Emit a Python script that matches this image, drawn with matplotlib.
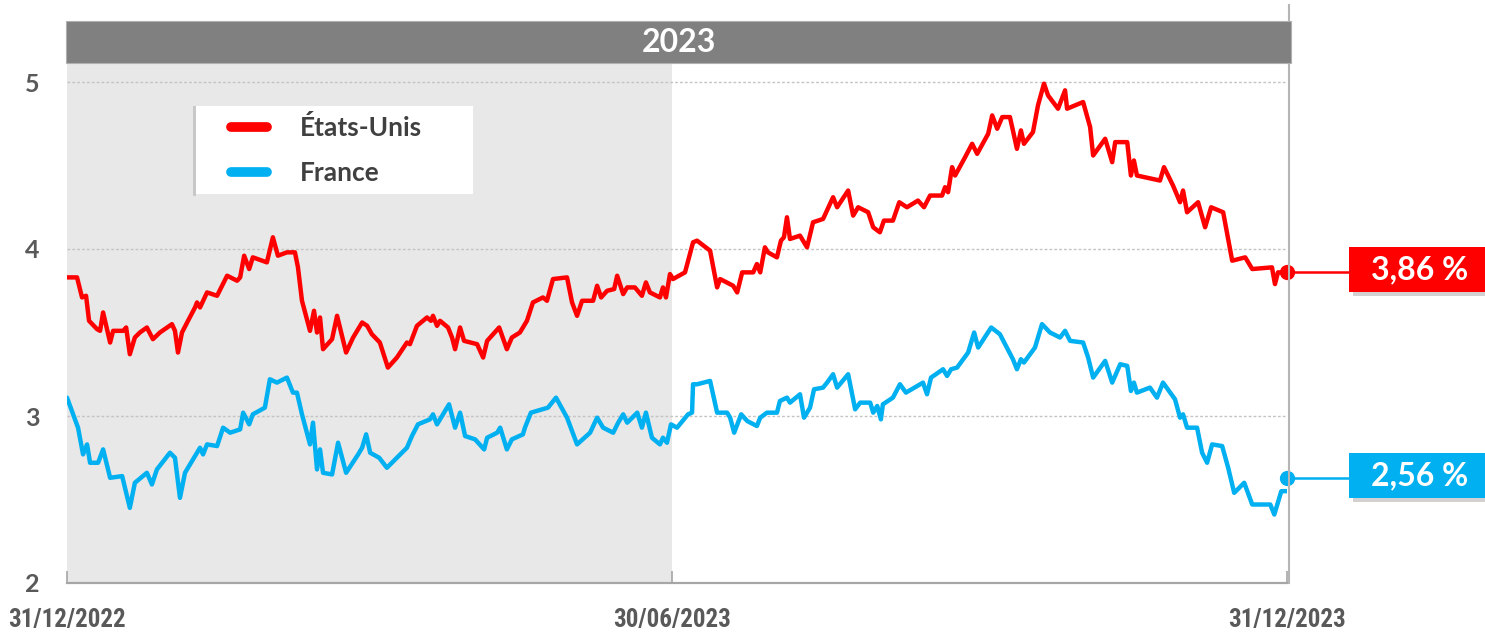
import matplotlib
matplotlib.use("Agg")
import matplotlib.pyplot as plt
from matplotlib import font_manager as fm
from matplotlib.patches import Rectangle
from matplotlib.lines import Line2D

# ---------------- data (days since 31/12/2022, yield in %) ----------------
us_days = [0, 3.0, 4.5, 5.7, 6.6, 9.0, 9.9, 10.8, 12.9, 13.8, 16.8, 17.7, 18.8, 20.3, 21.8,
           23.9, 25.7, 27.8, 31.4, 32.3, 33.2, 34.4, 36.2, 38.3, 38.9, 39.8, 41.9, 44.9, 47.9,
           50.9, 51.8, 53.0, 54.5, 55.6, 59.8, 61.6, 63.1, 65.8, 68.2, 69.1, 70.3, 72.7, 73.9,
           74.8, 75.7, 76.6, 79.3, 80.8, 83.5, 85.6, 88.3, 89.8, 91.2, 93.6, 96.0, 98.7, 101.7,
           102.6, 104.7, 107.7, 108.9, 109.5, 110.7, 111.6, 114.0, 115.2, 116.1, 117.6, 118.8,
           122.7, 124.5, 125.7, 129.3, 131.6, 133.1, 135.5, 137.6, 139.4, 142.4, 143.6, 145.4,
           149.6, 151.1, 152.6, 154.1, 157.4, 158.6, 159.8, 161.6, 163.7, 164.6, 166.4, 167.6,
           169.9, 172.0, 173.2, 174.4, 177.4, 178.3, 179.2, 180.4, 181.3, 184.9, 187.3, 188.5,
           192.4, 194.5, 195.4, 199.3, 200.5, 202.0, 205.3, 206.4, 207.4, 208.8, 209.7, 212.4,
           213.6, 214.5, 215.4, 216.3, 219.3, 221.4, 223.2, 226.2, 229.2, 230.4, 233.7, 235.2,
           236.7, 239.7, 241.2, 243.2, 244.4, 247.1, 249.0, 251.3, 254.6, 256.4, 258.2, 261.8,
           262.7, 263.6, 264.8, 265.7, 268.7, 270.8, 272.3, 275.6, 276.8, 278.3, 279.8, 282.1,
           283.0, 284.2, 285.4, 286.3, 289.0, 290.5, 292.3, 293.5, 296.5, 298.6, 299.2, 304.0,
           306.1, 307.0, 310.6, 312.7, 313.6, 317.2, 318.3, 319.2, 320.1, 327.0, 328.2, 330.9,
           333.0, 333.9, 335.1, 338.4, 340.5, 342.3, 345.9, 348.6, 352.5, 354.6, 360.5, 361.4,
           362.3, 365]
us_vals = [3.83, 3.83, 3.71, 3.72, 3.57, 3.52, 3.51, 3.62, 3.44, 3.51, 3.51, 3.53, 3.37, 3.47, 3.50,
           3.53, 3.46, 3.50, 3.55, 3.51, 3.38, 3.50, 3.57, 3.65, 3.68, 3.65, 3.74, 3.72, 3.84,
           3.81, 3.83, 3.96, 3.88, 3.95, 3.92, 4.07, 3.96, 3.98, 3.98, 3.89, 3.69, 3.51, 3.63,
           3.50, 3.59, 3.40, 3.46, 3.60, 3.38, 3.47, 3.56, 3.54, 3.49, 3.44, 3.29, 3.35, 3.44,
           3.43, 3.54, 3.59, 3.57, 3.60, 3.54, 3.57, 3.53, 3.47, 3.40, 3.53, 3.45,
           3.43, 3.35, 3.45, 3.53, 3.40, 3.47, 3.50, 3.57, 3.68, 3.71, 3.69, 3.82,
           3.83, 3.68, 3.60, 3.69, 3.69, 3.78, 3.71, 3.75, 3.76, 3.84, 3.73, 3.77,
           3.77, 3.72, 3.80, 3.74, 3.71, 3.77, 3.71, 3.85, 3.82, 3.86, 4.04, 4.05,
           3.99, 3.77, 3.82, 3.78, 3.74, 3.86, 3.86, 3.91, 3.86, 4.01, 3.98, 3.95,
           4.05, 4.07, 4.19, 4.06, 4.08, 4.01, 4.16, 4.18, 4.31, 4.25, 4.35, 4.20,
           4.25, 4.22, 4.13, 4.10, 4.17, 4.17, 4.28, 4.25, 4.29, 4.25, 4.32, 4.32,
           4.37, 4.34, 4.49, 4.44, 4.55, 4.63, 4.57, 4.69, 4.80, 4.72, 4.79, 4.79,
           4.71, 4.60, 4.71, 4.63, 4.70, 4.86, 4.99, 4.92, 4.84, 4.95, 4.84, 4.88,
           4.73, 4.56, 4.66, 4.52, 4.64, 4.64, 4.44, 4.53, 4.44, 4.41, 4.49, 4.38,
           4.28, 4.35, 4.22, 4.28, 4.13, 4.25, 4.22, 3.93, 3.95, 3.88, 3.89, 3.79,
           3.86, 3.86]

fr_days = [0, 3.3, 4.8, 6.0, 6.9, 9.3, 10.8, 12.9, 16.5, 18.8, 20.3, 23.9, 25.4, 26.9, 30.8,
           32.3, 33.8, 35.3, 39.8, 40.7, 41.9, 44.9, 46.7, 48.8, 51.8, 52.7, 54.5, 55.6, 59.2,
           60.7, 62.8, 65.8, 67.6, 68.8, 70.3, 72.7, 73.6, 74.8, 75.7, 76.6, 79.3, 81.1, 83.5,
           87.1, 88.3, 89.5, 90.7, 93.4, 95.7, 98.7, 101.7, 103.2, 105.0, 108.6, 109.5, 110.7,
           114.3, 116.1, 117.6, 119.1, 122.1, 124.8, 125.7, 128.7, 129.6, 131.6, 133.1, 136.4,
           137.0, 138.8, 143.9, 146.3, 149.6, 152.6, 156.5, 158.6, 160.4, 163.4, 164.9, 166.4,
           167.6, 170.6, 172.0, 173.2, 175.0, 177.4, 178.3, 179.5, 180.7, 182.5, 185.8, 187.0,
           187.3, 188.5, 192.4, 194.5, 197.5, 198.4, 199.6, 201.7, 203.5, 206.4, 207.4, 209.4,
           212.4, 213.3, 215.4, 216.3, 219.3, 220.5, 222.3, 223.5, 226.2, 227.4, 229.2, 230.4,
           233.7, 235.8, 237.3, 240.3, 241.2, 242.4, 243.5, 244.1, 247.1, 249.2, 251.0, 256.1,
           257.3, 258.5, 262.1, 263.3, 264.5, 266.3, 269.6, 271.4, 272.6, 276.5, 279.1, 283.0,
           284.2, 285.4, 286.3, 289.6, 291.7, 294.1, 297.1, 298.6, 300.1, 304.0, 305.5, 307.0,
           310.6, 312.7, 315.1, 317.2, 318.3, 319.2, 320.1, 324.0, 326.1, 327.9, 331.5, 333.0,
           333.9, 335.1, 338.1, 339.6, 341.1, 342.6, 345.6, 347.4, 349.2, 352.2, 354.6, 360.0,
           361.2, 363.3, 365]
fr_vals = [3.11, 2.93, 2.77, 2.83, 2.72, 2.72, 2.80, 2.63, 2.64, 2.45, 2.60, 2.66, 2.59, 2.68, 2.78,
           2.75, 2.51, 2.66, 2.81, 2.77, 2.83, 2.82, 2.93, 2.90, 2.92, 3.02, 2.95, 3.01, 3.05,
           3.22, 3.20, 3.23, 3.14, 3.14, 3.01, 2.83, 2.96, 2.68, 2.80, 2.66, 2.65, 2.84, 2.66,
           2.77, 2.81, 2.89, 2.78, 2.75, 2.69, 2.75, 2.81, 2.88, 2.95, 2.98, 3.01, 2.95,
           3.07, 2.93, 3.02, 2.88, 2.86, 2.80, 2.87, 2.90, 2.93, 2.80, 2.86, 2.89,
           2.93, 3.02, 3.05, 3.11, 2.99, 2.83, 2.90, 2.99, 2.93, 2.90, 2.96, 3.01,
           2.96, 3.02, 2.93, 3.02, 2.87, 2.83, 2.87, 2.84, 2.95, 2.93, 3.01, 3.02,
           3.19, 3.19, 3.21, 3.02, 3.02, 2.99, 2.90, 3.01, 2.97, 2.94, 2.99, 3.02,
           3.02, 3.09, 3.11, 3.08, 3.13, 2.99, 3.05, 3.16, 3.17, 3.20, 3.25, 3.17,
           3.25, 3.04, 3.08, 3.08, 3.02, 3.06, 2.98, 3.07, 3.11, 3.19, 3.14, 3.20,
           3.13, 3.23, 3.28, 3.24, 3.28, 3.29, 3.38, 3.50, 3.41, 3.53, 3.49, 3.34,
           3.28, 3.34, 3.32, 3.41, 3.55, 3.50, 3.47, 3.51, 3.45, 3.44, 3.35, 3.23,
           3.33, 3.20, 3.31, 3.30, 3.15, 3.20, 3.14, 3.17, 3.11, 3.20, 3.10, 2.99,
           3.01, 2.93, 2.93, 2.78, 2.72, 2.83, 2.82, 2.69, 2.54, 2.60, 2.47, 2.47,
           2.41, 2.55, 2.55]

series_names = ["États-Unis", "France"]
series_colors = ["#ff0000", "#00b0f0"]
end_labels = ["3,86 %", "2,56 %"]
end_marker_vals = [3.86, 2.63]
year_label = "2023"
x_tick_pos = [0, 181, 365]
x_tick_labels = ["31/12/2022", "30/06/2023", "31/12/2023"]
y_ticks = [2, 3, 4, 5]
y_tick_labels = ["2", "3", "4", "5"]
first_half_end = 181

# ---------------- fonts ----------------
avail = {f.name for f in fm.fontManager.ttflist}
def pick(*names):
    for n in names:
        if n in avail:
            return n
    return "DejaVu Sans"
main_font = pick("Lato", "Open Sans", "DejaVu Sans")
narrow_font = pick("Liberation Sans Narrow", "DejaVu Sans Condensed", "Roboto Condensed", "Liberation Sans")

W, H = 1485, 634
fig = plt.figure(figsize=(W / 100, H / 100), dpi=100)
fig.patch.set_facecolor("white")

def fx(px):
    return px / W
def fy(py):
    return 1 - py / H

ax_l, ax_r, ax_b, ax_t = 67, 1287, 583, 63
ax = fig.add_axes([fx(ax_l), fy(ax_b), fx(ax_r) - fx(ax_l), fy(ax_t) - fy(ax_b)])
ax.set_xlim(0, 365)
ymax = 2 + (ax_b - ax_t) / 167.0
ax.set_ylim(2, ymax)

# shaded first half
ax.axvspan(0, first_half_end, color="#e8e8e8", zorder=0, lw=0)

# grid
for yv in [3, 4, 5]:
    ax.axhline(yv, color="#c4c4c4", lw=1.0, ls=(0, (2, 1.5)), zorder=1)

# series
for d, v, c, n in [(us_days, us_vals, series_colors[0], series_names[0]),
                   (fr_days, fr_vals, series_colors[1], series_names[1])]:
    ax.plot(d, v, color=c, lw=3.2, solid_joinstyle="round", solid_capstyle="round", zorder=3, label=n)

# end markers & connectors
px_per_day = (ax_r - ax_l) / 365.0
box_left_day = (1349 - ax_l) / px_per_day
for mv, c in zip(end_marker_vals, series_colors):
    ax.plot([365, box_left_day], [mv, mv], color=c, lw=1.8, clip_on=False, zorder=4)
    ax.plot([365], [mv], marker="o", ms=10, color=c, clip_on=False, zorder=5)

# spines / ticks
for s in ["top", "right", "left"]:
    ax.spines[s].set_visible(False)
ax.spines["bottom"].set_color("#a6a6a6")
ax.spines["bottom"].set_linewidth(1.6)
ax.set_xticks(x_tick_pos)
ax.set_xticklabels(x_tick_labels, fontfamily=narrow_font, fontweight="bold", fontsize=18, color="#595959")
ax.tick_params(axis="x", direction="in", length=9, width=1.2, color="#a6a6a6", pad=18)
ax.set_yticks(y_ticks)
ax.set_yticklabels(y_tick_labels, fontfamily=main_font, fontweight="bold", fontsize=18, color="#595959")
ax.tick_params(axis="y", length=0, pad=20)
ax.set_facecolor("white")

# legend (drawn in figure pixels to match the reference box)
fig.patches.append(Rectangle((fx(193), fy(196)), fx(196) - fx(193), fy(106) - fy(196),
                             transform=fig.transFigure, facecolor="#c8c8c8", edgecolor="none", zorder=5))
fig.patches.append(Rectangle((fx(196), fy(194)), fx(473) - fx(196), fy(106) - fy(194),
                             transform=fig.transFigure, facecolor="white", edgecolor="none", zorder=6))
for i, (n, c) in enumerate(zip(series_names, series_colors)):
    yy = 127 + 45 * i
    fig.add_artist(Line2D([fx(231), fx(267)], [fy(yy), fy(yy)], transform=fig.transFigure,
                          color=c, lw=7, solid_capstyle="round", zorder=7))
    fig.text(fx(300), fy(yy + 1), n, ha="left", va="center", color="#404040",
             fontfamily=main_font, fontweight="bold", fontsize=19, zorder=8)

# header bar
fig.patches.append(Rectangle((fx(66), fy(63)), fx(1291) - fx(66), fy(21) - fy(63),
                             transform=fig.transFigure, facecolor="#808080",
                             edgecolor="#b0b0b0", lw=0.8, zorder=2))
fig.text(fx(678.5), fy(42), year_label, ha="center", va="center", color="white",
         fontfamily=main_font, fontweight="bold", fontsize=23, zorder=3)

# right border shadow line
fig.add_artist(Line2D([fx(1289), fx(1289)], [fy(583), fy(5)], transform=fig.transFigure,
                      color="#b5b5b5", lw=1.5, zorder=1))

# end value boxes
box_tops = [247, 453]
for top, c, lab in zip(box_tops, series_colors, end_labels):
    fig.patches.append(Rectangle((fx(1353), fy(top + 49)), fx(1485) - fx(1353), fy(top) - fy(top + 45),
                                 transform=fig.transFigure, facecolor="#9a9a9a", alpha=0.45,
                                 edgecolor="none", zorder=2))
    fig.patches.append(Rectangle((fx(1349), fy(top + 45)), fx(1485) - fx(1349), fy(top) - fy(top + 45),
                                 transform=fig.transFigure, facecolor=c, edgecolor="none", zorder=3))
    fig.text(fx(1420), fy(top + 23), lab, ha="center", va="center", color="white",
             fontfamily=main_font, fontweight="bold", fontsize=23, zorder=4)

fig.savefig("out.png", dpi=100, facecolor="white")
